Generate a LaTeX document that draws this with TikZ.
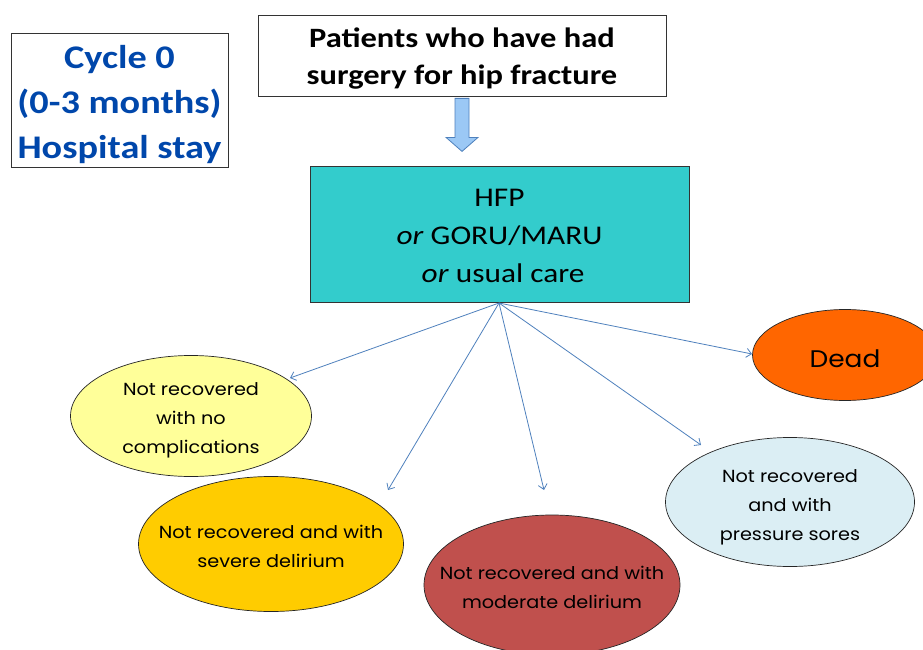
\documentclass[tikz,border=0pt]{standalone}
\usepackage{fontspec}
\setmainfont{Carlito}[FakeStretch=1.16]
\newfontfamily\gothic{Poppins}[FakeStretch=1.1]
\usetikzlibrary{arrows.meta,calc,shapes.geometric}
\newcommand\mytop[1]{\rule{0pt}{#1}}
\newcommand\mybot[1]{\rule[-#1]{0pt}{0pt}}
\definecolor{cycblue}{RGB}{0,71,171}
\definecolor{arrblue}{RGB}{79,129,189}
\definecolor{teal1}{RGB}{51,204,204}
\definecolor{yel}{RGB}{255,255,153}
\definecolor{gold}{RGB}{255,204,0}
\definecolor{brick}{RGB}{192,80,77}
\definecolor{pale}{RGB}{219,238,244}
\definecolor{orng}{RGB}{255,102,0}
\definecolor{lblue}{RGB}{155,200,245}
\tikzset{
  rbox/.style={draw=black!80, line width=0.8pt, inner xsep=0pt, inner ysep=-30pt},
  outcome/.style={ellipse, draw=black!85, line width=0.7pt, inner sep=-60pt, align=center,
     font=\gothic\fontsize{17.5}{29}\selectfont},
  link/.style={draw=arrblue, line width=0.8pt, -{Straight Barb[length=5pt,width=9pt]}},
}
\begin{document}
\begin{tikzpicture}[x=1pt,y=-1pt]
\clip (0,0) rectangle (923,650);
\fill[white] (0,0) rectangle (923,650);
% boxes
\node[rbox, minimum width=217pt, minimum height=134pt, align=center,
  text=cycblue, font=\bfseries\fontsize{33}{45}\selectfont] (cycle) at (119.5,100)
  {\mytop{36pt}Cycle 0\\(0-3 months)\\Hospital stay\mybot{10pt}};
\node[rbox, minimum width=408pt, minimum height=81pt, align=center,
  font=\bfseries\fontsize{28}{37}\selectfont] (pat) at (462,55.5)
  {\mytop{31pt}Patients who have had\\surgery for hip fracture\mybot{10pt}};
\node[rbox, fill=teal1, minimum width=379pt, minimum height=136pt, align=center,
  font=\fontsize{27}{38}\selectfont] (hfp) at (499.5,234)
  {\mytop{30pt}HFP\\\textit{or} GORU/MARU\\\ \textit{or} usual care\mybot{10pt}};
% block arrow
\draw[draw=arrblue, fill=lblue, line width=0.8pt, line join=miter]
  ($(pat.south)+(-7,2)$) -- ++(14,0) -- ++(0,39) -- ++(9,0) -- ($(pat.south)+(0,55)$)
  -- ($(pat.south)+(-16,41)$) -- ++(9,0) -- cycle;
% outcomes
\node[outcome, fill=yel, minimum width=241pt, minimum height=121pt] (nrc) at (191,416)
  {\mytop{22pt}Not recovered\\with no\\complications\mybot{6pt}};
\node[outcome, fill=gold, minimum width=265pt, minimum height=135pt] (sev) at (271,544)
  {\mytop{23pt}Not recovered and with\\severe delirium\mybot{6pt}};
\node[outcome, fill=brick, minimum width=256pt, minimum height=140pt] (mod) at (552,585)
  {\mytop{23pt}Not recovered and with\\moderate delirium\mybot{6pt}};
\node[outcome, fill=pale, minimum width=249pt, minimum height=129pt] (prs) at (790,502)
  {\mytop{24pt}Not recovered\\and with\\pressure sores\mybot{6pt}};
\node[outcome, fill=orng, minimum width=185pt, minimum height=91pt, font=\gothic\fontsize{24}{30}\selectfont] (dead) at (845,355)
  {\mytop{30pt}Dead\mybot{6pt}};
% connector ends
\coordinate (src) at (499,303);
\coordinate (e1) at (290,378);
\coordinate (e2) at (388,490);
\coordinate (e3) at (544,490);
\coordinate (e4) at (701,445);
\coordinate (e5) at (752,354);
\draw[link] (src) -- (e1);
\draw[link] (src) -- (e2);
\draw[link] (src) -- (e3);
\draw[link] (src) -- (e4);
\draw[link] (src) -- (e5);
\end{tikzpicture}
\end{document}
